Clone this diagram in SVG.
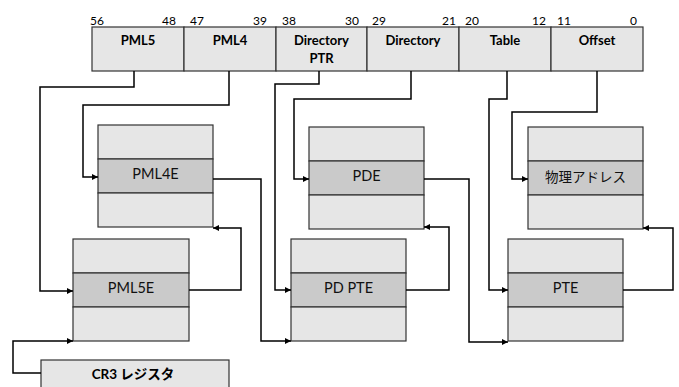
<svg xmlns="http://www.w3.org/2000/svg" width="679" height="387" viewBox="0 0 679 387">
<style>
.cell{fill:#e6e6e6;stroke:#333;stroke-width:1.2}
.mid{fill:#cacaca;stroke:#333;stroke-width:1.2}
.bit{font-family:Lato,"Liberation Sans",sans-serif;font-size:12px;fill:#000}
.hdr{font-family:Lato,"Liberation Sans",sans-serif;font-size:13px;font-weight:bold;fill:#000;text-anchor:middle}
.lbl{font-family:Lato,"Noto Sans CJK JP",sans-serif;font-size:14.5px;fill:#111;text-anchor:middle}
.jp{font-family:"Noto Sans CJK JP",sans-serif;font-size:13.5px;fill:#111;text-anchor:middle}
.cr3{font-family:Lato,"Noto Sans CJK JP",sans-serif;font-size:13.5px;font-weight:bold;fill:#000;text-anchor:middle}
.wire{fill:none;stroke:#000;stroke-width:1.5;marker-end:url(#arr)}
</style>
<defs>
<marker id="arr" viewBox="0 0 10 10" refX="10" refY="5" markerWidth="4" markerHeight="4" orient="auto" markerUnits="strokeWidth">
<path d="M0,0 L10,5 L0,10 z" fill="#000"/>
</marker>
</defs>

<g id="address">
<rect class="cell" x="92" y="27" width="92" height="44"/>
<rect class="cell" x="184" y="27" width="92" height="44"/>
<rect class="cell" x="276" y="27" width="91" height="44"/>
<rect class="cell" x="367" y="27" width="92" height="44"/>
<rect class="cell" x="459" y="27" width="92" height="44"/>
<rect class="cell" x="551" y="27" width="92" height="44"/>
<text class="hdr" x="138" y="45">PML5</text>
<text class="hdr" x="230" y="45">PML4</text>
<text class="hdr" x="321.5" y="45">Directory</text>
<text class="hdr" x="321.5" y="62.5">PTR</text>
<text class="hdr" x="413" y="45">Directory</text>
<text class="hdr" x="505" y="45">Table</text>
<text class="hdr" x="597" y="45">Offset</text>
<text class="bit" x="90" y="25">56</text>
<text class="bit" x="176" y="25" text-anchor="end">48</text>
<text class="bit" x="190" y="25">47</text>
<text class="bit" x="267" y="25" text-anchor="end">39</text>
<text class="bit" x="282" y="25">38</text>
<text class="bit" x="359" y="25" text-anchor="end">30</text>
<text class="bit" x="372" y="25">29</text>
<text class="bit" x="456" y="25" text-anchor="end">21</text>
<text class="bit" x="465" y="25">20</text>
<text class="bit" x="546" y="25" text-anchor="end">12</text>
<text class="bit" x="557" y="25">11</text>
<text class="bit" x="637" y="25" text-anchor="end">0</text>
</g>

<g id="pml4e">
<rect class="cell" x="98" y="125" width="115" height="34"/>
<rect class="mid" x="98" y="159" width="115" height="34"/>
<rect class="cell" x="98" y="193" width="115" height="34"/>
<text class="lbl" x="155.5" y="179">PML4E</text>
</g>

<g id="pml5e">
<rect class="cell" x="73" y="239" width="116" height="34"/>
<rect class="mid" x="73" y="273" width="116" height="34"/>
<rect class="cell" x="73" y="307" width="116" height="34"/>
<text class="lbl" x="131" y="292.5">PML5E</text>
</g>

<g id="pde">
<rect class="cell" x="309" y="127" width="115" height="34"/>
<rect class="mid" x="309" y="161" width="115" height="34"/>
<rect class="cell" x="309" y="195" width="115" height="34"/>
<text class="lbl" x="366.5" y="181">PDE</text>
</g>

<g id="pdpte">
<rect class="cell" x="291" y="239" width="115" height="34"/>
<rect class="mid" x="291" y="273" width="115" height="34"/>
<rect class="cell" x="291" y="307" width="115" height="34"/>
<text class="lbl" x="348.5" y="292.5">PD PTE</text>
</g>

<g id="pte">
<rect class="cell" x="508" y="239" width="115" height="34"/>
<rect class="mid" x="508" y="273" width="115" height="34"/>
<rect class="cell" x="508" y="307" width="115" height="34"/>
<text class="lbl" x="565.5" y="292.5">PTE</text>
</g>

<g id="phys">
<rect class="cell" x="528" y="127" width="115" height="34"/>
<rect class="mid" x="528" y="161" width="115" height="34"/>
<rect class="cell" x="528" y="195" width="115" height="34"/>
<text class="jp" x="585.5" y="182">物理アドレス</text>
</g>

<g id="cr3">
<rect class="cell" x="41" y="360" width="188" height="40"/>
<text class="cr3" x="133" y="378.5">CR3 レジスタ</text>
</g>

<g id="connectors">
<path class="wire" d="M134,71 V87 H40 V291 H73"/>
<path class="wire" d="M229,71 V105 H83 V177 H98"/>
<path class="wire" d="M319,71 V84 H275 V290 H291"/>
<path class="wire" d="M411,71 V99 H294 V179 H309"/>
<path class="wire" d="M507,71 V99 H489 V290 H508"/>
<path class="wire" d="M597,71 V112 H512 V179 H528"/>
<path class="wire" d="M41,373 H13 V341 H73"/>
<path class="wire" d="M189,290 H241 V228 H213"/>
<path class="wire" d="M213,179 H261 V341 H291"/>
<path class="wire" d="M406,290 H449 V227 H424"/>
<path class="wire" d="M424,179 H469 V342 H508"/>
<path class="wire" d="M623,290 H673 V228 H643"/>
</g>
</svg>
